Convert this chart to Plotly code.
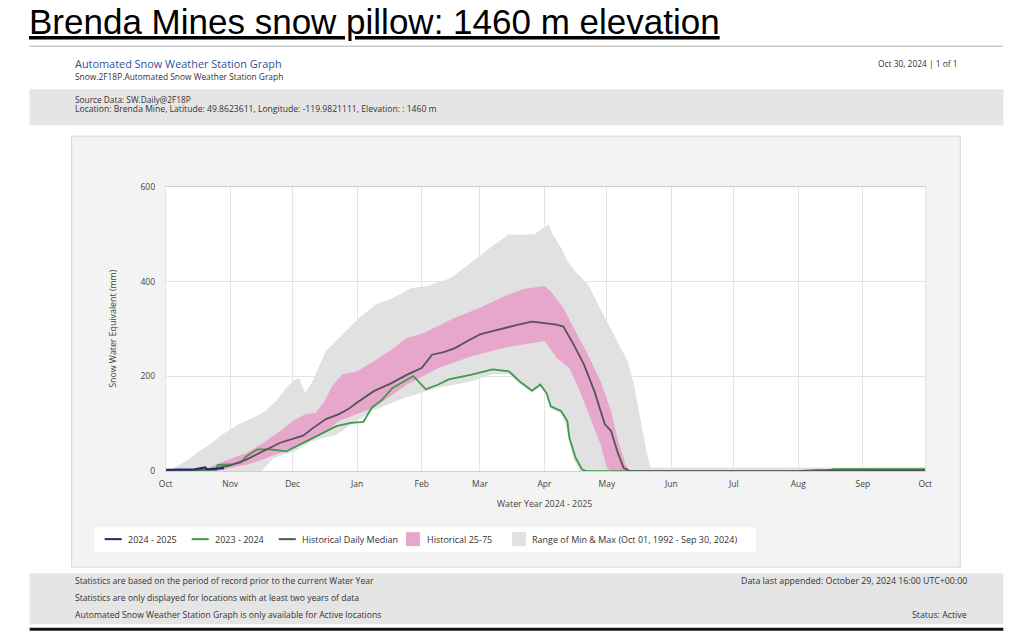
import plotly.graph_objects as go

W, H = 1024, 643

# ---------------- data ----------------
month_ticks = ["2024-10-01", "2024-11-01", "2024-12-01", "2025-01-01", "2025-02-01", "2025-03-01",
               "2025-04-01", "2025-05-01", "2025-06-01", "2025-07-01", "2025-08-01", "2025-09-01", "2025-10-01"]
month_labels = ["Oct", "Nov", "Dec", "Jan", "Feb", "Mar", "Apr", "May", "Jun", "Jul", "Aug", "Sep", "Oct"]
y_ticks = [0, 200, 400, 600]

blue_dates = ["2024-10-01", "2024-10-10", "2024-10-15", "2024-10-20", "2024-10-21", "2024-10-25", "2024-10-29"]
blue_vals = [3, 3.5, 4, 8, 3.5, 5, 6]

green_dates = ["2024-10-01", "2024-10-25", "2024-10-26", "2024-11-01", "2024-11-06", "2024-11-09", "2024-11-14",
               "2024-11-20", "2024-11-28", "2024-12-03", "2024-12-10", "2024-12-16", "2024-12-22", "2024-12-29",
               "2025-01-04", "2025-01-08", "2025-01-13", "2025-01-18", "2025-01-24", "2025-01-28", "2025-02-03",
               "2025-02-09", "2025-02-14", "2025-02-25", "2025-03-07", "2025-03-15", "2025-03-20", "2025-03-26",
               "2025-03-30", "2025-04-02", "2025-04-04", "2025-04-09", "2025-04-12", "2025-04-13", "2025-04-16",
               "2025-04-19", "2025-04-21", "2025-08-14", "2025-08-18", "2025-10-01"]
green_vals = [0, 0, 13, 14, 18, 32, 46,
              46, 42, 53, 70, 82, 95, 102,
              104, 134, 151, 176, 190, 201, 173,
              183, 194, 204, 215, 211, 190, 170,
              183, 165, 137, 127, 106, 70, 28,
              4, 0, 0, 4, 4]

median_dates = ["2024-10-01", "2024-10-15", "2024-10-25", "2024-11-01", "2024-11-09", "2024-11-17", "2024-11-25",
                "2024-12-01", "2024-12-06", "2024-12-11", "2024-12-17", "2024-12-23", "2024-12-28", "2025-01-01",
                "2025-01-09", "2025-01-17", "2025-01-25", "2025-02-01", "2025-02-06", "2025-02-12", "2025-02-17",
                "2025-02-23", "2025-03-01", "2025-03-07", "2025-03-13", "2025-03-20", "2025-03-26", "2025-04-01",
                "2025-04-06", "2025-04-10", "2025-04-15", "2025-04-20", "2025-04-25", "2025-04-30", "2025-05-03",
                "2025-05-06", "2025-05-09", "2025-05-12", "2025-07-31", "2025-08-10", "2025-10-01"]
median_vals = [0, 2, 6, 12, 25, 42, 60,
               68, 75, 92, 110, 120, 132, 145,
               169, 185, 204, 218, 246, 252, 260,
               275, 289, 296, 303, 310, 316, 313,
               310, 306, 268, 225, 169, 99, 85,
               42, 7, 0, 0, 2, 2]

p75_dates = ["2024-10-01", "2024-10-18", "2024-10-25", "2024-11-01", "2024-11-09", "2024-11-17", "2024-11-25",
             "2024-12-01", "2024-12-07", "2024-12-12", "2024-12-16", "2024-12-20", "2024-12-25", "2025-01-01",
             "2025-01-09", "2025-01-17", "2025-01-25", "2025-02-01", "2025-02-08", "2025-02-17", "2025-03-01",
             "2025-03-13", "2025-03-22", "2025-04-01", "2025-04-04", "2025-04-10", "2025-04-15", "2025-04-21",
             "2025-04-28", "2025-05-03", "2025-05-06", "2025-05-10", "2025-05-12", "2025-10-01"]
p75_vals = [0, 0, 14, 25, 39, 60, 85,
            106, 120, 123, 145, 180, 205, 211,
            232, 255, 282, 290, 305, 324, 345,
            370, 385, 391, 380, 345, 303, 254,
            190, 127, 70, 14, 0, 0]

p25_dates = ["2024-10-01", "2024-10-25", "2024-11-01", "2024-11-09", "2024-11-17", "2024-11-25", "2024-12-01",
             "2024-12-09", "2024-12-16", "2024-12-23", "2025-01-09", "2025-01-25", "2025-02-09", "2025-02-25",
             "2025-03-13", "2025-03-26", "2025-04-01", "2025-04-07", "2025-04-13", "2025-04-18", "2025-04-23",
             "2025-04-28", "2025-05-01", "2025-05-03", "2025-10-01"]
p25_vals = [0, 0, 6, 14, 25, 39, 49,
            63, 80, 106, 134, 183, 218, 243,
            261, 271, 275, 239, 218, 169, 113,
            56, 7, 0, 0]

max_dates = ["2024-10-01", "2024-10-03", "2024-10-08", "2024-10-13", "2024-10-17", "2024-10-22", "2024-10-28",
             "2024-11-05", "2024-11-12", "2024-11-18", "2024-11-23", "2024-11-28", "2024-12-01", "2024-12-04",
             "2024-12-07", "2024-12-10", "2024-12-17", "2024-12-25", "2025-01-02", "2025-01-10", "2025-01-18",
             "2025-01-27", "2025-02-04", "2025-02-15", "2025-03-01", "2025-03-08", "2025-03-15", "2025-03-27",
             "2025-04-03", "2025-04-05", "2025-04-09", "2025-04-12", "2025-04-17", "2025-04-22", "2025-04-26",
             "2025-05-01", "2025-05-06", "2025-05-11", "2025-05-14", "2025-05-17", "2025-05-20", "2025-05-22",
             "2025-10-01"]
max_vals = [0, 2, 14, 28, 42, 56, 77,
            99, 113, 127, 148, 176, 190, 197,
            165, 185, 254, 290, 324, 352, 366,
            387, 391, 408, 455, 479, 500, 500,
            521, 500, 472, 444, 416, 395, 359,
            317, 275, 232, 183, 113, 42, 7,
            8]

min_dates = ["2024-10-01", "2024-11-16", "2024-11-22", "2024-12-02", "2024-12-10", "2024-12-22", "2025-01-08",
             "2025-01-24", "2025-02-09", "2025-02-25", "2025-03-07", "2025-03-15", "2025-03-20", "2025-03-26",
             "2025-03-30", "2025-04-02", "2025-04-04", "2025-04-09", "2025-04-11", "2025-04-13", "2025-04-15",
             "2025-04-18", "2025-10-01"]
min_vals = [0, 0, 28, 42, 63, 77, 127,
            155, 176, 190, 205, 205, 185, 166,
            178, 160, 132, 122, 100, 65, 25,
            0, 0]

# ---------------- colours ----------------
C_BLUE = "#1f2a6b"
C_GREEN = "#3f9a4a"
C_MED = "#555555"
C_PINK = "#e7a6cc"
C_RANGE = "#e1e1e1"


# layout positions below are given as measured on the reference picture and converted here
def px(x):
    return ((x - 7.4) / 0.9856) / W


def py(y):
    return 1 - ((y - 4.8) / 0.983) / H


fig = go.Figure()

fig.add_trace(go.Scatter(x=max_dates + min_dates[::-1], y=max_vals + min_vals[::-1], fill="toself",
                         fillcolor=C_RANGE, line=dict(width=0), mode="lines", hoverinfo="skip",
                         name="Range of Min & Max (Oct 01, 1992 - Sep 30, 2024)", showlegend=False))
fig.add_trace(go.Scatter(x=p75_dates + p25_dates[::-1], y=p75_vals + p25_vals[::-1], fill="toself",
                         fillcolor=C_PINK, line=dict(width=0), mode="lines", hoverinfo="skip",
                         name="Historical 25-75", showlegend=False))
fig.add_trace(go.Scatter(x=green_dates, y=green_vals, mode="lines", line=dict(color=C_GREEN, width=1.8),
                         name="2023 - 2024", showlegend=False))
fig.add_trace(go.Scatter(x=median_dates, y=median_vals, mode="lines", line=dict(color=C_MED, width=1.8),
                         name="Historical Daily Median", showlegend=False))
fig.add_trace(go.Scatter(x=blue_dates, y=blue_vals, mode="lines", line=dict(color=C_BLUE, width=2),
                         name="2024 - 2025", showlegend=False))

PL, PR, PT, PB = 166, 925, 186, 470

shapes = []
shapes.append(dict(type="line", xref="paper", yref="paper", x0=px(30), x1=px(1003), y0=py(45), y1=py(45),
                   line=dict(color="#c9c9c9", width=1.5), layer="below"))
shapes.append(dict(type="rect", xref="paper", yref="paper", x0=px(30), x1=px(1003), y0=py(124), y1=py(88),
                   fillcolor="#e5e5e5", line=dict(width=0), layer="below"))
shapes.append(dict(type="rect", xref="paper", yref="paper", x0=px(72), x1=px(960), y0=py(566), y1=py(135),
                   fillcolor="#f3f3f3", line=dict(color="#d6d6d6", width=1), layer="below"))
shapes.append(dict(type="rect", xref="paper", yref="paper", x0=px(PL), x1=px(PR), y0=py(PB), y1=py(PT),
                   fillcolor="#ffffff", line=dict(width=0), layer="below"))
shapes.append(dict(type="rect", xref="paper", yref="paper", x0=px(95), x1=px(756), y0=py(551), y1=py(526),
                   fillcolor="#ffffff", line=dict(width=0), layer="below"))
shapes.append(dict(type="rect", xref="paper", yref="paper", x0=px(30), x1=px(1003), y0=py(623), y1=py(572),
                   fillcolor="#e5e5e5", line=dict(width=0), layer="below"))
shapes.append(dict(type="line", xref="paper", yref="paper", x0=px(30), x1=px(1003), y0=py(628), y1=py(628),
                   line=dict(color="#111111", width=3), layer="below"))

LY = 538
for x0, col in [(105, C_BLUE), (192, C_GREEN), (279, C_MED)]:
    shapes.append(dict(type="line", xref="paper", yref="paper", x0=px(x0), x1=px(x0 + 17), y0=py(LY), y1=py(LY),
                       line=dict(color=col, width=2), layer="above"))
for x0, col in [(406, C_PINK), (512, C_RANGE)]:
    shapes.append(dict(type="rect", xref="paper", yref="paper", x0=px(x0), x1=px(x0 + 14), y0=py(LY + 7),
                       y1=py(LY - 7), fillcolor=col, line=dict(width=0), layer="above"))

FONT = "Open Sans"
anns = []


def txt(x, y, s, size, color="#333333", xanchor="left", family=FONT, **kw):
    anns.append(dict(x=px(x), y=py(y), xref="paper", yref="paper", text=s, showarrow=False,
                     xanchor=xanchor, yanchor="middle", font=dict(size=size, color=color, family=family), **kw))


txt(27, 20, "<u>Brenda Mines snow pillow: 1460 m elevation</u>", 35, color="#000000", family="Liberation Sans")
txt(73, 62, "Automated Snow Weather Station Graph", 10.9, color="#2f4f9c")
txt(73, 75, "Snow.2F18P.Automated Snow Weather Station Graph", 8.4, color="#333333")
txt(960, 62, "Oct 30, 2024 | 1 of 1", 8.4, color="#333333", xanchor="right")
txt(73, 98, "Source Data: SW.Daily@2F18P", 8.3, color="#333333")
txt(73, 108, "Location: Brenda Mine, Latitude: 49.8623611, Longitude: -119.9821111, Elevation: : 1460 m", 8.6,
    color="#333333")

txt(545, 503, "Water Year 2024 - 2025", 8.8, color="#444444", xanchor="center")
anns.append(dict(x=px(113), y=py(327), xref="paper", yref="paper", text="Snow Water Equivalent (mm)",
                 showarrow=False, textangle=-90, xanchor="center", yanchor="middle",
                 font=dict(size=8.8, color="#444444", family=FONT)))

for x0, s in [(126, "2024 - 2025"), (213, "2023 - 2024"), (300, "Historical Daily Median"),
              (425, "Historical 25-75"), (530, "Range of Min & Max (Oct 01, 1992 - Sep 30, 2024)")]:
    txt(x0, LY, s, 9, color="#333333")

txt(73, 580, "Statistics are based on the period of record prior to the current Water Year", 8.6)
txt(73, 597, "Statistics are only displayed for locations with at least two years of data", 8.6)
txt(73, 614, "Automated Snow Weather Station Graph is only available for Active locations", 8.6)
txt(969, 580, "Data last appended: October 29, 2024 16:00 UTC+00:00", 8.8, xanchor="right")
txt(969, 614, "Status: Active", 8.8, xanchor="right")

fig.update_layout(
    width=W, height=H,
    margin=dict(l=0, r=0, t=0, b=0),
    paper_bgcolor="#ffffff",
    plot_bgcolor="rgba(0,0,0,0)",
    showlegend=False,
    shapes=shapes,
    annotations=anns,
    xaxis=dict(domain=[px(PL), px(PR)], type="date", range=["2024-10-01", "2025-10-01"],
               tickmode="array", tickvals=month_ticks, ticktext=month_labels,
               showgrid=True, gridcolor="#e4e4e4", gridwidth=1, zeroline=False,
               showline=True, linecolor="#d0d0d0", linewidth=1, mirror=True, ticks="",
               tickfont=dict(size=8.5, color="#444444", family=FONT), ticklabelstandoff=5),
    yaxis=dict(domain=[py(PB), py(PT)], range=[0, 600], tickmode="array", tickvals=y_ticks,
               showgrid=True, gridcolor="#e4e4e4", gridwidth=1, zeroline=False,
               showline=True, linecolor="#e4e4e4", linewidth=1, mirror=True, ticks="",
               tickfont=dict(size=8.5, color="#444444", family=FONT), ticklabelstandoff=8),
)

fig.write_html("out.html", config={"displayModeBar": False},
               post_script="document.body.style.margin='0';document.body.style.padding='0';"
                           "document.documentElement.style.overflow='hidden';")
